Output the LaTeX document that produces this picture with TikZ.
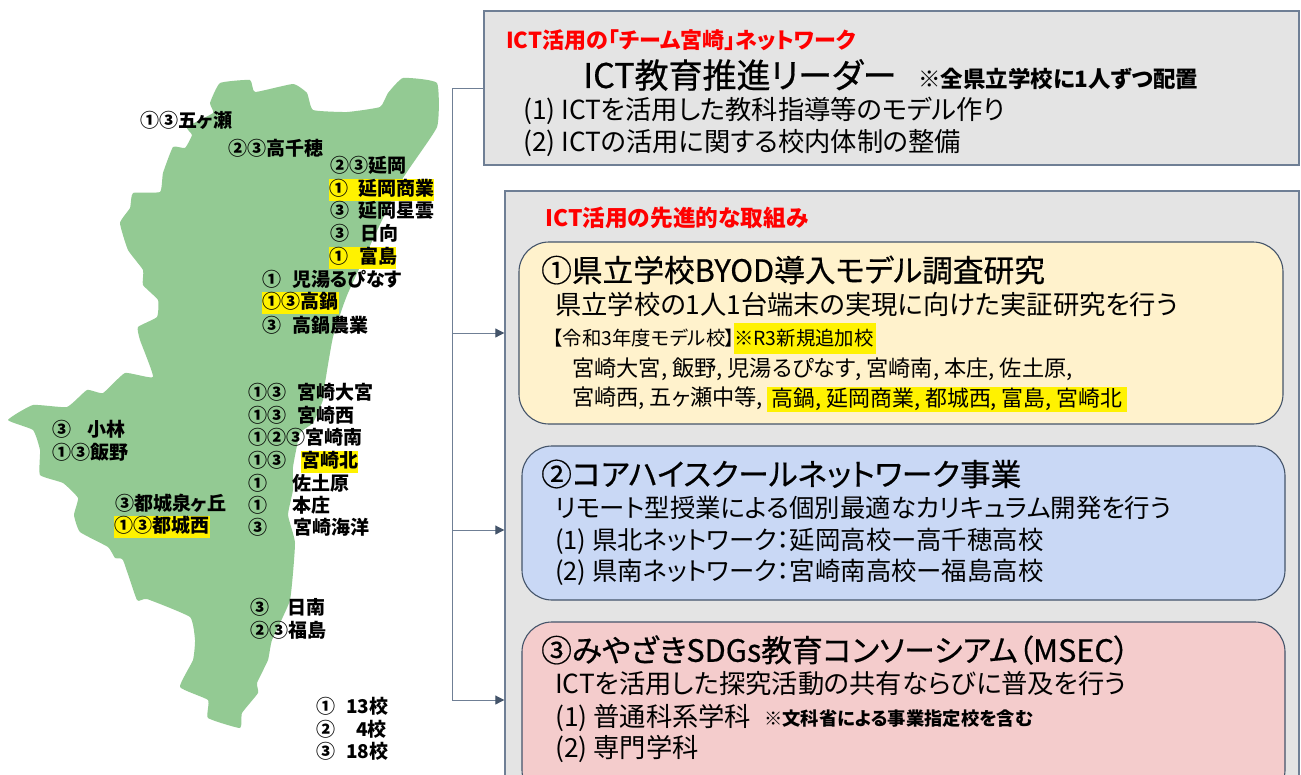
\documentclass[tikz,border=0pt]{standalone}
\usepackage{fontspec}
\setmainfont[RawFeature=+palt]{Noto Sans CJK JP}
\newfontfamily\medf[FakeBold=0.6,RawFeature=+palt]{Noto Sans CJK JP}
\usetikzlibrary{arrows.meta}
\definecolor{mapgreen}{HTML}{93CA93}
\definecolor{panelgray}{HTML}{E4E4E4}
\definecolor{edgeslate}{HTML}{6F7F95}
\definecolor{boxedge}{HTML}{44546A}
\definecolor{arrowblue}{HTML}{44546A}
\definecolor{cream}{HTML}{FFF2CC}
\definecolor{paleblue}{HTML}{C9D8F5}
\definecolor{palered}{HTML}{F4CCCC}
\newcommand{\fs}[1]{\fontsize{#1}{#1}\selectfont}
\newcommand{\cd}[2]{\makebox[#1pt][l]{#2}}
\tikzset{
  panel/.style={draw=edgeslate,line width=1.4pt,fill=panelgray,inner sep=0,rectangle},
  roundbox/.style={draw=boxedge,line width=1.1pt,rounded corners=30pt,inner sep=0,rectangle},
  txt/.style={anchor=west,inner sep=0,text=black},
  lab/.style={txt,font=\fs{19}\bfseries},
  hl/.style={fill=yellow,minimum height=22pt,text height=14pt,text depth=3pt,align=left},
  red/.style={txt,text=red,font=\fs{22}\bfseries},
  head/.style={txt,font=\fs{30.7}\medf},
  body/.style={txt,font=\fs{26.3}},
  bodyb/.style={txt,font=\fs{25.4}},
  small/.style={txt,font=\fs{22.2}},
  link/.style={draw=edgeslate,line width=1pt},
  arr/.style={link,-{Triangle[length=9pt,width=9pt,color=arrowblue]}}
}
\newcommand{\bx}[6]{\node[#1,minimum width={(#5-#3)*1pt},minimum height={(#6-#4)*1pt}] (#2) at ({(#3+#5)/2},{(#4+#6)/2}) {};}
\begin{document}
\begin{tikzpicture}[x=1pt,y=-1pt]
\useasboundingbox (0,0) rectangle (1301,774);
\clip (0,0) rectangle (1301,774);
\fill[white] (0,0) rectangle (1301,774);
% map
\fill[mapgreen] plot[smooth cycle,tension=0.25] coordinates {
(437,83)(403,78)(388,93)(380,107)(347,112)(313,110)(307,93)(293,84)(255,92)(250,80)(220,83)(210,103)(213,113)(187,127)(192,135)(185,148)(173,147)(163,173)(160,192)(133,193)(130,208)(120,223)(128,250)(143,270)(143,285)(158,300)(157,317)(138,327)(140,340)(153,377)(125,373)(103,393)(87,390)(67,407)(33,405)(8,420)(33,430)(40,450)(40,475)(63,483)(78,498)(74,515)(80,532)(108,547)(115,558)(123,560)(137,600)(147,599)(190,617)(195,640)(193,660)(180,687)(208,700)(208,718)(240,728)(242,713)(258,693)(257,683)(268,660)(272,640)(290,600)(295,543)(288,515)(293,490)(293,467)(300,433)(313,423)(323,400)(325,383)(333,337)(348,293)(400,183)(437,127)};
% map labels
\node[lab] (l1) at (140,120) {①③五ヶ瀬};
\node[lab] (l2) at (228,148) {②③高千穂};
\node[lab] (l3) at (330,165) {②③延岡};
\node[lab,hl,text width=105pt] (l4) at (329,190) {\cd{29}{①}延岡商業};
\node[lab] (l5) at (330,210) {\cd{28}{③}延岡星雲};
\node[lab] (l6) at (330,233) {\cd{30}{③}日向};
\node[lab,hl,text width=67pt] (l7) at (329,258) {\cd{30}{①}富島};
\node[lab] (l8) at (262,279) {\cd{30}{①}児湯るぴなす};
\node[lab,hl,text width=77pt] (l9) at (262,303) {①③高鍋};
\node[lab] (l10) at (262,325) {\cd{30}{③}高鍋農業};
\node[lab] (l11) at (248,392) {\cd{49}{①③}宮崎大宮};
\node[lab] (l12) at (248,415) {\cd{49}{①③}宮崎西};
\node[lab] (l13) at (248,437) {①②③宮崎南};
\node[lab] (l14a) at (248,460) {①③};
\node[lab,fill=yellow,minimum height=22pt,text height=14pt,text depth=3pt,minimum width=57pt] (l14b) at (301,462) {宮崎北};
\node[lab] (l15) at (248,483) {\cd{44}{①}佐土原};
\node[lab] (l16) at (248,505) {\cd{44}{①}本庄};
\node[lab] (l17) at (248,527) {\cd{45}{③}宮崎海洋};
\node[lab] (l18) at (52,429) {\cd{35}{③}小林};
\node[lab] (l19) at (52,452) {①③飯野};
\node[lab] (l20) at (115,503) {③都城泉ヶ丘};
\node[lab,hl,text width=96pt] (l21) at (114,527) {①③都城西};
\node[lab] (l22) at (250,607) {\cd{37}{③}日南};
\node[lab] (l23) at (250,630) {②③福島};
\node[lab] (l24) at (316,706) {\cd{30}{①}13校};
\node[lab] (l25) at (316,729) {\cd{40}{②}4校};
\node[lab] (l26) at (316,751) {\cd{30}{③}18校};
% panels
\bx{panel}{top}{484}{11}{1299}{165}
\bx{panel}{adv}{505}{191}{1299}{800}
\bx{roundbox,fill=cream}{one}{519}{242}{1283}{424}
\bx{roundbox,fill=paleblue}{two}{522}{446}{1285}{600}
\bx{roundbox,fill=palered}{three}{522}{622}{1285}{800}
% connectors
\coordinate (b0) at (452,88);
\coordinate (b1) at (452,333);
\coordinate (b2) at (452,530);
\coordinate (b3) at (452,700);
\draw[link] (top.west |- b0) -- (b0) -- (b3);
\draw[arr] (b1) -- (adv.west |- b1);
\draw[arr] (b2) -- (adv.west |- b2);
\draw[arr] (b3) -- (adv.west |- b3);
% top panel text
\node[red] (t1) at (506,40) {ICT活用の「チーム宮崎」ネットワーク};
\node[txt,font=\fs{34}\medf] (t2) at (583,75) {ICT教育推進リーダー};
\node[txt,font=\fs{22.5}\bfseries] (t3) at (918,79) {※全県立学校に1人ずつ配置};
\node[body] (t4) at (523,111) {(1) ICTを活用した教科指導等のモデル作り};
\node[body] (t5) at (523,143) {(2) ICTの活用に関する校内体制の整備};
\node[red,font=\fs{22.7}\bfseries] (t6) at (545,218) {ICT活用の先進的な取組み};
% box one
\node[head] (a1) at (541,270) {①県立学校BYOD導入モデル調査研究};
\node[body] (a2) at (555,305) {県立学校の1人1台端末の実現に向けた実証研究を行う};
\node[txt,font=\fs{19.4}] (a3) at (553,338) {【令和3年度モデル校】};
\node[txt,fill=yellow,font=\fs{19.4},minimum height=31pt,text width=142pt,align=left] (a4) at (734,338.5) {※R3新規追加校};
\node[small] (a5) at (572,369) {宮崎大宮, 飯野, 児湯るぴなす, 宮崎南, 本庄, 佐土原,};
\node[small] (a6) at (572,398) {宮崎西, 五ヶ瀬中等,};
\node[txt,fill=yellow,font=\fs{21.9},minimum height=25pt,minimum width=360pt] (a7) at (767,399.5) {高鍋, 延岡商業, 都城西, 富島, 宮崎北};
% box two
\node[head] (b1t) at (541,474) {②コアハイスクールネットワーク事業};
\node[bodyb] (b2t) at (555,508) {リモート型授業による個別最適なカリキュラム開発を行う};
\node[bodyb] (b3t) at (555,541) {(1) 県北ネットワーク：延岡高校ー高千穂高校};
\node[bodyb] (b4t) at (555,572) {(2) 県南ネットワーク：宮崎南高校ー福島高校};
% box three
\node[head] (c1) at (541,650) {③みやざきSDGs教育コンソーシアム（MSEC）};
\node[body] (c2) at (555,684) {ICTを活用した探究活動の共有ならびに普及を行う};
\node[body] (c3) at (555,718) {(1) 普通科系学科};
\node[txt,font=\fs{18.3}\bfseries] (c4) at (764,719) {※文科省による事業指定校を含む};
\node[body] (c5) at (555,749) {(2) 専門学科};
\end{tikzpicture}
\end{document}
